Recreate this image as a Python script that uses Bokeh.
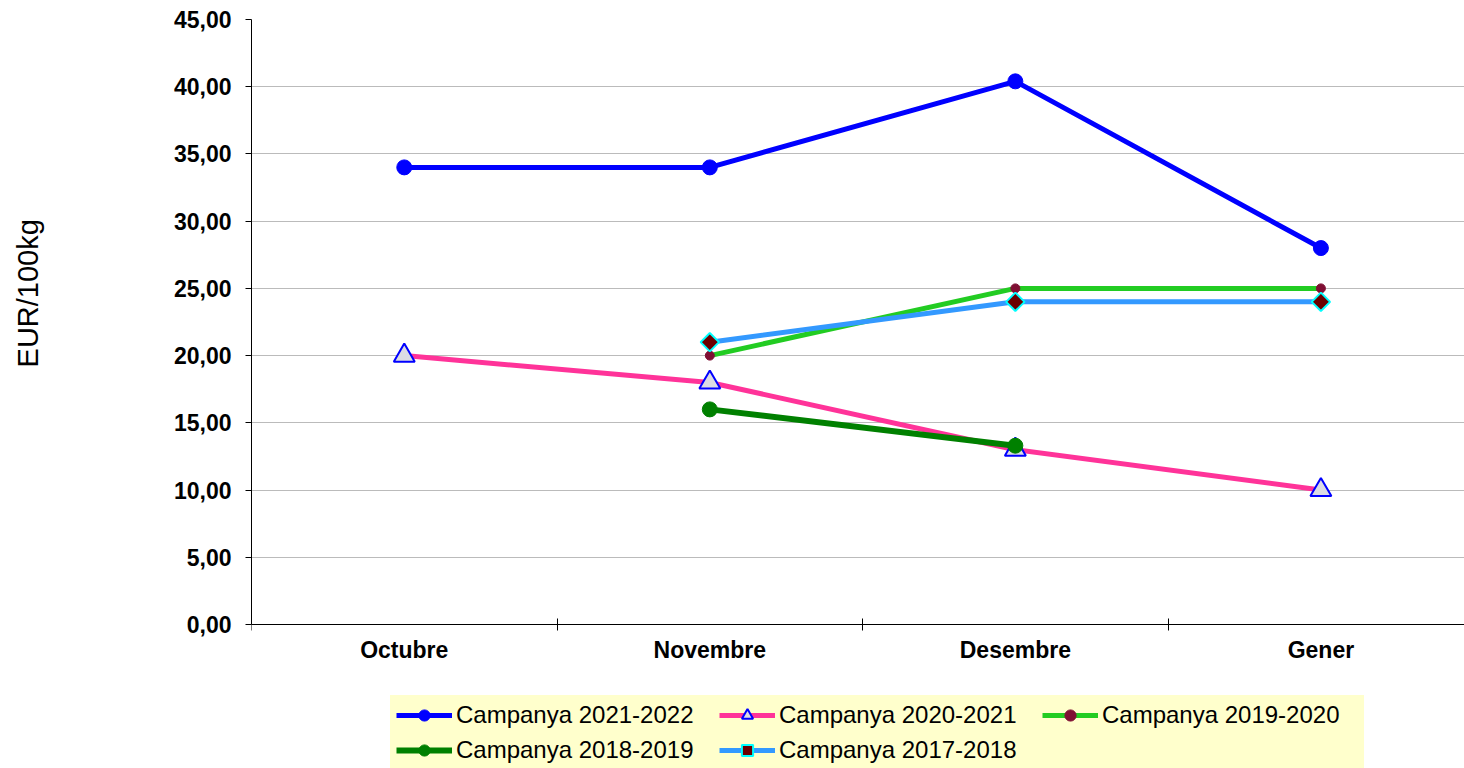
import math
from bokeh.plotting import figure
from bokeh.models import Range1d, FixedTicker, Legend, LegendItem
from bokeh.embed import file_html
from bokeh.resources import INLINE

NaN = float("nan")

months = ["Octubre", "Novembre", "Desembre", "Gener"]
y_ticks = [0, 5, 10, 15, 20, 25, 30, 35, 40, 45]
y_tick_labels = ["0,00", "5,00", "10,00", "15,00", "20,00", "25,00",
                 "30,00", "35,00", "40,00", "45,00"]
y_label = "EUR/100kg"

series_names = ["Campanya 2021-2022", "Campanya 2020-2021", "Campanya 2019-2020",
                "Campanya 2018-2019", "Campanya 2017-2018"]
s2122 = [34.0, 34.0, 40.4, 28.0]
s2021 = [20.0, 18.0, 13.0, 10.0]
s1920 = [NaN, 20.0, 25.0, 25.0]
s1819 = [NaN, 16.0, 13.3, NaN]
s1718 = [NaN, 21.0, 24.0, 24.0]

xs = list(range(len(months)))
FONT = "Liberation Sans"

# frame runs to the bottom of the page so the legend (drawn in the frame) is not clipped
PX_PER_UNIT = 605 / 45.0
Y_BOTTOM = -144 / PX_PER_UNIT

p = figure(width=1464, height=768, output_backend="svg", toolbar_location=None,
           x_range=Range1d(-0.5, 3.47), y_range=Range1d(Y_BOTTOM, 45),
           min_border_left=251, min_border_right=0, min_border_top=19,
           min_border_bottom=0)
p.outline_line_color = None
p.xgrid.visible = False
p.ygrid.grid_line_color = "#BBBBBB"
p.ygrid.grid_line_width = 1

# y axis
p.yaxis.ticker = FixedTicker(ticks=y_ticks)
p.yaxis.bounds = (y_ticks[0], y_ticks[-1])
p.yaxis.major_label_overrides = {t: l for t, l in zip(y_ticks, y_tick_labels)}
p.yaxis.major_tick_out = 6
p.yaxis.major_tick_in = 0
p.yaxis.minor_tick_out = 0
p.yaxis.minor_tick_in = 0
p.yaxis.major_label_standoff = 14
p.yaxis.major_label_text_font = FONT
p.yaxis.major_label_text_font_style = "bold"
p.yaxis.major_label_text_font_size = "23px"
p.yaxis.major_label_text_color = "black"
p.yaxis.axis_line_color = "black"
p.yaxis.major_tick_line_color = "black"
# the label is centred on the (taller) frame; leading no-break spaces lift it to
# the height it has in the reference
p.yaxis.axis_label = "\u00a0" * 25 + y_label
p.yaxis.axis_label_text_font = FONT
p.yaxis.axis_label_text_font_style = "normal"
p.yaxis.axis_label_text_font_size = "29px"
p.yaxis.axis_label_text_color = "black"
p.yaxis.axis_label_standoff = 127

# x axis fixed at y = 0
bounds = [i - 0.5 for i in range(len(months) + 1)]
p.xaxis.fixed_location = 0
p.xaxis.ticker = FixedTicker(ticks=xs, minor_ticks=bounds)
p.xaxis.major_label_overrides = {i: m for i, m in enumerate(months)}
p.xaxis.major_tick_out = 0
p.xaxis.major_tick_in = 0
p.xaxis.minor_tick_out = 6
p.xaxis.minor_tick_in = 6
p.xaxis.minor_tick_line_color = "black"
p.xaxis.major_label_standoff = 6
p.xaxis.major_label_text_font = FONT
p.xaxis.major_label_text_font_style = "bold"
p.xaxis.major_label_text_font_size = "23px"
p.xaxis.major_label_text_color = "black"
p.xaxis.axis_line_color = "black"

items = []

def add_series(name, ys, line_color, lw, marker, msize, fill, mline, mlw, angle=0.0):
    r1 = p.line(xs, ys, line_color=line_color, line_width=lw)
    r2 = p.scatter(xs, ys, marker=marker, size=msize, fill_color=fill,
                   line_color=mline, line_width=mlw, angle=angle)
    items.append(LegendItem(label=name, renderers=[r1, r2]))

add_series(series_names[0], s2122, "#0000FF", 5, "circle", 15, "#0000FF", "#0000FF", 1)
add_series(series_names[1], s2021, "#FF3399", 5, "triangle", 21, "#DCDCE4", "#0000FF", 2)
add_series(series_names[2], s1920, "#22CC22", 5, "circle", 9, "#7F0F33", "#7F0F33", 1)
add_series(series_names[3], s1819, "#008000", 6, "circle", 15, "#008000", "#008000", 1)
add_series(series_names[4], s1718, "#3399FF", 5, "square", 13, "#6B0000", "#00FFFF", 2, math.pi / 4)

legend = Legend(items=items, location=(139, -2), orientation="horizontal", ncols=3,
                background_fill_color="#FFFFCC", background_fill_alpha=1.0,
                border_line_color="#FFFFCC", border_line_width=1, padding=5, spacing=7,
                glyph_width=56, glyph_height=28, label_height=28, label_width=256,
                label_standoff=4, label_text_font=FONT, label_text_font_size="24px",
                label_text_color="black", margin=0)
p.add_layout(legend)

open("out.html", "w").write(file_html(p, INLINE))
